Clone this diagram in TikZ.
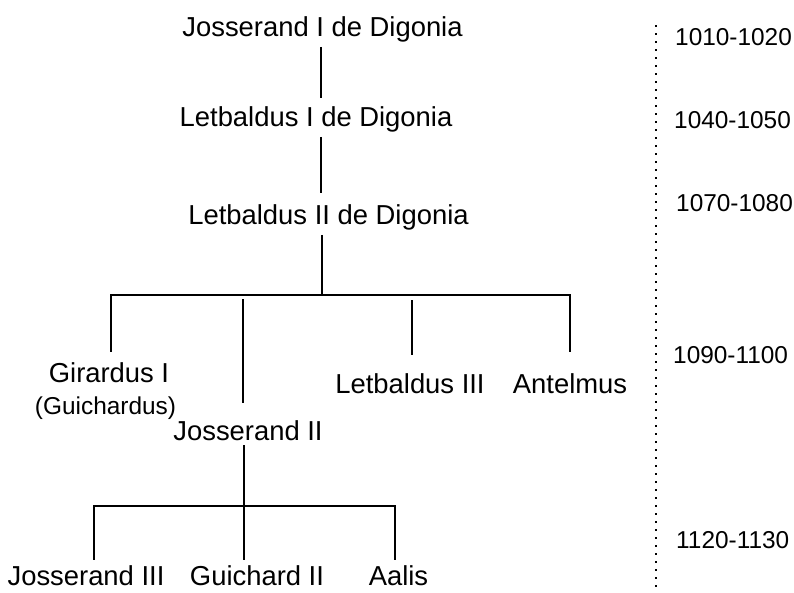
\documentclass[tikz,border=0pt]{standalone}
\usepackage{fontspec}
\setmainfont{Liberation Sans}
\begin{document}
\begin{tikzpicture}[x=1pt,y=-1pt,
  person/.style={font=\fontsize{27.4}{30}\selectfont, inner xsep=0pt, inner ysep=5pt, anchor=base},
  lastrow/.style={person, inner ysep=0pt, text depth=0pt},
  alias/.style={font=\fontsize{24.4}{28}\selectfont, inner sep=0pt, anchor=base},
  era/.style={font=\fontsize{24.4}{28}\selectfont, inner sep=0pt, anchor=base west},
  link/.style={line width=1.7pt},
  timeline/.style={line width=1.6pt, dash pattern=on 1.6pt off 6.4pt}]
\useasboundingbox (0,0) rectangle (794,592);

% people
\node[person] (j1) at (322.5,36) {Josserand I de Digonia};
\node[person] (l1) at (316,126) {Letbaldus I de Digonia};
\node[person] (l2) at (328.5,224) {Letbaldus II de Digonia};
\node[person] (g1) at (109,382) {Girardus I};
\node[alias] (g1b) at (105.5,414) {(Guichardus)};
\node[person] (j2) at (248,440) {Josserand II};
\node[person] (l3) at (410,393) {Letbaldus III};
\node[person] (an) at (570,393) {Antelmus};
\node[lastrow] (j3) at (86,585) {Josserand III};
\node[lastrow] (g2) at (257,585) {Guichard II};
\node[lastrow] (aa) at (398.5,585) {Aalis};

% periods
\node[era] (p1) at (675,45) {1010-1020};
\node[era] (p2) at (674,128) {1040-1050};
\node[era] (p3) at (676,211) {1070-1080};
\node[era] (p4) at (673,363) {1090-1100};
\node[era] (p5) at (676,548) {1120-1130};

% timeline
\coordinate (t1) at (655.7,25);
\coordinate (t2) at (655.7,600);
\draw[timeline] (t1) -- (t2);

% connectors
\coordinate (c1) at (320.7,0);
\coordinate (c2) at (321,0);
\coordinate (c3) at (322,295);
\coordinate (b1) at (111,295);
\coordinate (b2) at (570,295);
\coordinate (c4) at (243,299);
\coordinate (c5) at (412,300);
\coordinate (k1) at (94,506);
\coordinate (k2) at (395,506);
\coordinate (k3) at (244,506);

\draw[link] (j1.south -| c1) -- ([yshift=3pt]l1.north -| c1);
\draw[link] (l1.south -| c2) -- ([yshift=6pt]l2.north -| c2);
\draw[link] (l2.south -| c3) -- (c3);
\draw[link] ([yshift=5pt]g1.north -| b1) -- (b1) -- (b2) -- ([yshift=16pt]an.north -| b2);
\draw[link] (c4) -- ([yshift=12pt]j2.north -| c4);
\draw[link] (c5) -- ([yshift=13pt]l3.north -| c5);
\draw[link] (j2.south -| k3) -- ([yshift=5pt]g2.north -| k3);
\draw[link] ([yshift=5pt]j3.north -| k1) -- (k1) -- (k2) -- ([yshift=5pt]aa.north -| k2);
\end{tikzpicture}
\end{document}
